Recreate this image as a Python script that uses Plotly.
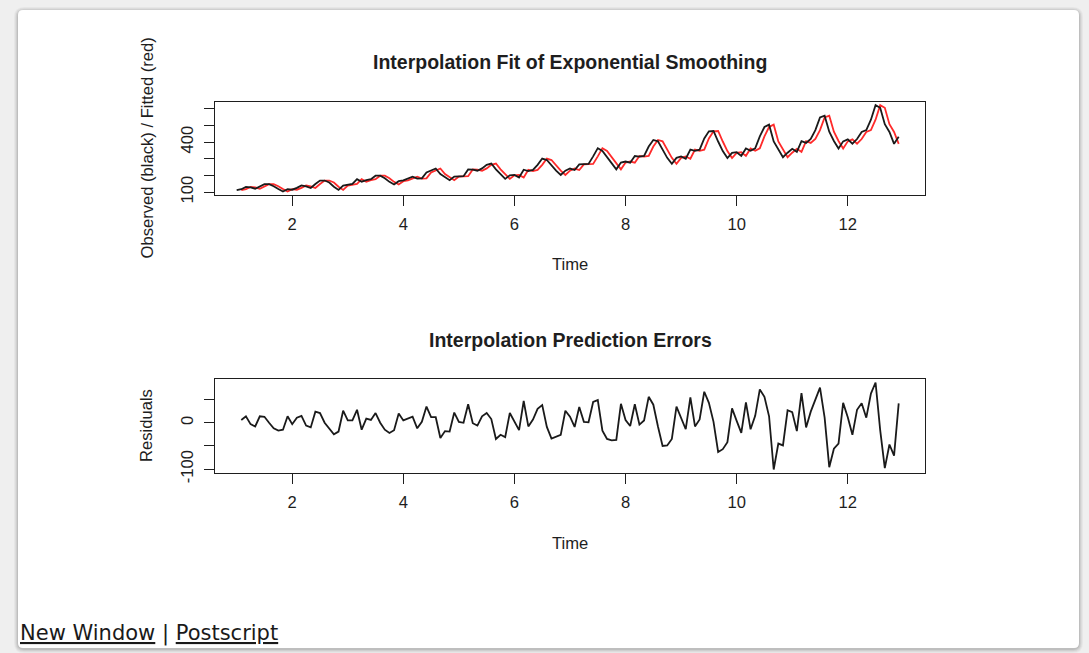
import plotly.graph_objects as go

# ---------------- data (monthly series, 12 per time unit) ----------------
start_time = 1.0
frequency = 12

observed = [
    112, 118, 132, 129, 121, 135, 148, 148, 136, 119, 104, 118,
    115, 126, 141, 135, 125, 149, 170, 170, 158, 133, 114, 140,
    145, 150, 178, 163, 172, 178, 199, 199, 184, 162, 146, 166,
    171, 180, 193, 181, 183, 218, 230, 242, 209, 191, 172, 194,
    196, 196, 236, 235, 229, 243, 264, 272, 237, 211, 180, 201,
    204, 188, 235, 227, 234, 264, 302, 293, 259, 229, 203, 229,
    242, 233, 267, 269, 270, 315, 364, 347, 312, 274, 237, 278,
    284, 277, 317, 313, 318, 374, 413, 405, 355, 306, 271, 306,
    315, 301, 356, 348, 355, 422, 465, 467, 404, 347, 305, 336,
    340, 318, 362, 348, 363, 435, 491, 505, 404, 359, 310, 337,
    360, 342, 406, 396, 420, 472, 548, 559, 463, 407, 362, 405,
    417, 391, 419, 461, 472, 535, 622, 606, 508, 461, 390, 432,
]

fitted = [
    112, 118, 132, 129, 121, 135, 148, 148, 136, 119, 104,
    118, 115, 126, 141, 135, 125, 149, 170, 170, 158, 133, 114,
    140, 145, 150, 178, 163, 172, 178, 199, 199, 184, 162, 146,
    166, 171, 180, 193, 181, 183, 218, 230, 242, 209, 191, 172,
    194, 196, 196, 236, 235, 229, 243, 264, 272, 237, 211, 180,
    201, 204, 188, 235, 227, 234, 264, 302, 293, 259, 229, 203,
    229, 242, 233, 267, 269, 270, 315, 364, 347, 312, 274, 237,
    278, 284, 277, 317, 313, 318, 374, 413, 405, 355, 306, 271,
    306, 315, 301, 356, 348, 355, 422, 465, 467, 404, 347, 305,
    336, 340, 318, 362, 348, 363, 435, 491, 505, 404, 359, 310,
    337, 360, 342, 406, 396, 420, 472, 548, 559, 463, 407, 362,
    405, 417, 391, 419, 461, 472, 535, 622, 606, 508, 461, 390,
]

residuals = [
    6, 14, -3, -8, 14, 13, 0, -12, -17, -15, 14,
    -3, 11, 15, -6, -10, 24, 21, 0, -12, -25, -19, 26,
    5, 5, 28, -15, 9, 6, 21, 0, -15, -22, -16, 20,
    5, 9, 13, -12, 2, 35, 12, 12, -33, -18, -19, 22,
    2, 0, 40, -1, -6, 14, 21, 8, -35, -26, -31, 21,
    3, -16, 47, -8, 7, 30, 38, -9, -34, -30, -26, 26,
    13, -9, 34, 2, 1, 45, 49, -17, -35, -38, -37, 41,
    6, -7, 40, -4, 5, 56, 39, -8, -50, -49, -35, 35,
    9, -14, 55, -8, 7, 67, 43, 2, -63, -57, -42, 31,
    4, -22, 44, -14, 15, 72, 56, 14, -101, -45, -49, 27,
    23, -18, 64, -10, 24, 52, 76, 11, -96, -56, -45, 43,
    12, -26, 28, 42, 11, 63, 87, -16, -98, -47, -71, 42,
]

x_tick_vals = [2, 4, 6, 8, 10, 12]
y1_tick_vals = [100, 200, 300, 400, 500, 600]
y1_tick_text = ["100", "", "", "400", "", ""]
y2_tick_vals = [-100, -50, 0, 50]
y2_tick_text = ["-100", "", "0", ""]

title_top = "Interpolation Fit of Exponential Smoothing"
title_bottom = "Interpolation Prediction Errors"
ylab_top = "Observed (black) / Fitted (red)"
ylab_bottom = "Residuals"
xlab = "Time"

# time index of the monthly series
t_obs = [start_time + i / frequency for i in range(len(observed))]
t_fit = t_obs[1:]

# ---------------- layout helpers ----------------
W, H = 1089, 653


def px(x):
    return x / W


def py(y):
    return 1 - y / H


FONT = "Liberation Sans, Arial, Helvetica, sans-serif"
INK = "#1e1e1e"
LAB = 16.6
TIT = 19.5

fig = go.Figure()

fig.add_trace(go.Scatter(x=t_fit, y=fitted, mode="lines",
                         line=dict(color="#ff2a2a", width=1.8),
                         xaxis="x", yaxis="y", showlegend=False))
fig.add_trace(go.Scatter(x=t_obs, y=observed, mode="lines",
                         line=dict(color="#1a1a1a", width=1.8),
                         xaxis="x", yaxis="y", showlegend=False))
fig.add_trace(go.Scatter(x=t_fit, y=residuals, mode="lines",
                         line=dict(color="#1a1a1a", width=1.8),
                         xaxis="x2", yaxis="y2", showlegend=False))


def r_range(lo, hi):
    d = (hi - lo) * 0.04
    return [lo - d, hi + d]


x_rng = r_range(min(t_fit), max(t_fit))
y1_rng = r_range(min(min(observed), min(fitted)), max(max(observed), max(fitted)))
y2_rng = r_range(min(residuals), max(residuals))

axis_common = dict(
    showline=True, mirror=True, linecolor=INK, linewidth=1.4,
    ticks="outside", ticklen=10, tickwidth=1.4, tickcolor=INK,
    showgrid=False, zeroline=False, automargin=False, ticklabelstandoff=4,
    tickfont=dict(family=FONT, size=LAB, color=INK),
)

fig.update_layout(
    width=W, height=H, autosize=False,
    margin=dict(l=0, r=0, t=0, b=0, pad=0, autoexpand=False),
    paper_bgcolor="#efefef", plot_bgcolor="white",
    xaxis=dict(domain=[px(215), px(925)], range=x_rng, anchor="y",
               tickvals=x_tick_vals, **axis_common),
    yaxis=dict(domain=[py(195), py(101.7)], range=y1_rng, anchor="x",
               tickvals=y1_tick_vals, ticktext=y1_tick_text, tickangle=-90,
               **axis_common),
    xaxis2=dict(domain=[px(215), px(925)], range=x_rng, anchor="y2",
                tickvals=x_tick_vals, **axis_common),
    yaxis2=dict(domain=[py(473), py(379)], range=y2_rng, anchor="x2",
                tickvals=y2_tick_vals, ticktext=y2_tick_text, tickangle=-90,
                **axis_common),
)


def rounded(x0, y0, x1, y1, r):
    X0, X1 = px(x0), px(x1)
    Y0, Y1 = py(y0), py(y1)   # Y0 is top (larger), Y1 bottom
    rx, ry = r / W, r / H
    return (f"M {X0 + rx},{Y0} L {X1 - rx},{Y0} Q {X1},{Y0} {X1},{Y0 - ry} "
            f"L {X1},{Y1 + ry} Q {X1},{Y1} {X1 - rx},{Y1} "
            f"L {X0 + rx},{Y1} Q {X0},{Y1} {X0},{Y1 + ry} "
            f"L {X0},{Y0 - ry} Q {X0},{Y0} {X0 + rx},{Y0} Z")


# card with soft shadow
shapes = []
for i, a in enumerate([0.035, 0.045, 0.06, 0.08]):
    g = 4 - i
    shapes.append(dict(type="path", xref="paper", yref="paper", layer="below",
                       path=rounded(18 - g, 10 - g + 1, 1079 + g, 648 + g + 1, 6 + g),
                       line=dict(width=0), fillcolor=f"rgba(0,0,0,{a})"))
shapes.append(dict(type="path", xref="paper", yref="paper", layer="below",
                   path=rounded(18, 10, 1079, 648, 5),
                   line=dict(width=0), fillcolor="white"))
fig.update_layout(shapes=shapes)

ann = []
ann.append(dict(text=f"<b>{title_top}</b>", x=px(570), y=py(62), xref="paper", yref="paper",
                showarrow=False, xanchor="center", yanchor="middle",
                font=dict(family=FONT, size=TIT, color=INK)))
ann.append(dict(text=f"<b>{title_bottom}</b>", x=px(570), y=py(340), xref="paper", yref="paper",
                showarrow=False, xanchor="center", yanchor="middle",
                font=dict(family=FONT, size=TIT, color=INK)))
for yy in (265, 543):
    ann.append(dict(text=xlab, x=px(570), y=py(yy), xref="paper", yref="paper",
                    showarrow=False, xanchor="center", yanchor="middle",
                    font=dict(family=FONT, size=LAB, color=INK)))
ann.append(dict(text=ylab_top, x=px(147), y=py(148.5), xref="paper", yref="paper",
                showarrow=False, xanchor="center", yanchor="middle", textangle=-90,
                font=dict(family=FONT, size=LAB, color=INK)))
ann.append(dict(text=ylab_bottom, x=px(146), y=py(426), xref="paper", yref="paper",
                showarrow=False, xanchor="center", yanchor="middle", textangle=-90,
                font=dict(family=FONT, size=LAB, color=INK)))
ann.append(dict(text="<u>New Window</u> | <u>Postscript</u>", x=px(18), y=py(633),
                xref="paper", yref="paper", showarrow=False, xanchor="left", yanchor="middle",
                font=dict(family="DejaVu Sans, Verdana, sans-serif", size=21, color="#1a1a1a")))
fig.update_layout(annotations=ann)

fig.write_html("out.html", config={"displayModeBar": False},
               post_script="document.body.style.margin='0';document.body.style.overflow='hidden';")
